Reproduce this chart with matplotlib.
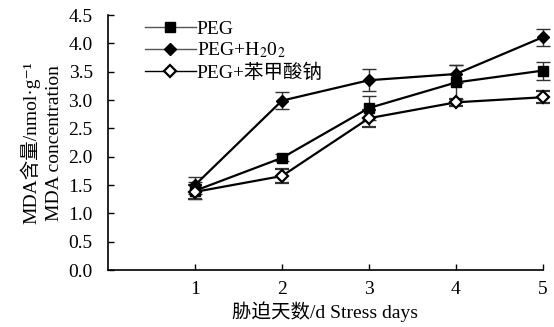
import numpy as np
import matplotlib.pyplot as plt

plt.rcParams['font.family'] = ['Liberation Serif', 'DejaVu Serif', 'Noto Sans CJK SC']
plt.rcParams['mathtext.fontset'] = 'stix'

days = [1, 2, 3, 4, 5]
peg = [1.40, 1.98, 2.86, 3.31, 3.52]
peg_err = [0.15, 0.06, 0.22, 0.30, 0.16]
peg_h2o2 = [1.50, 2.99, 3.35, 3.46, 4.11]
peg_h2o2_err = [0.15, 0.15, 0.19, 0.16, 0.15]
peg_sb = [1.38, 1.66, 2.68, 2.96, 3.05]
peg_sb_err = [0.12, 0.13, 0.15, 0.06, 0.11]

fs = 14

fig = plt.figure(figsize=[5.54, 3.27], dpi=100)
ax = fig.add_axes([0.195, 0.174, 0.785, 0.780])

kw = dict(color='black', lw=1.6, ecolor='#333333', elinewidth=1.0,
          capsize=5, capthick=1.0, clip_on=False)
ax.errorbar(days, peg, yerr=peg_err, marker='s', ms=7, mfc='black', mec='black', **kw)
ax.errorbar(days, peg_h2o2, yerr=peg_h2o2_err, marker='D', ms=6.5, mfc='black', mec='black', **kw)
ax.errorbar(days, peg_sb, yerr=peg_sb_err, marker='D', ms=6, mfc='white', mec='black', mew=1.6, **kw)

# legend entries drawn as plain lines with markers
l1, = ax.plot([], [], color='#555555', lw=1.0, marker='s', ms=7, mfc='black', mec='black')
l2, = ax.plot([], [], color='#555555', lw=1.0, marker='D', ms=6.5, mfc='black', mec='black')
l3, = ax.plot([], [], color='black', lw=1.0, marker='D', ms=6, mfc='white', mec='black', mew=1.6)
ax.legend([l1, l2, l3], ['PEG', 'PEG+H$_2$0$_2$', 'PEG+苯甲酸钠'],
          loc='upper left', bbox_to_anchor=(0.085, 0.98), frameon=False,
          fontsize=fs, handlelength=2.6, handletextpad=0.05,
          labelspacing=0.15, borderaxespad=0, borderpad=0)

ax.set_xlim(0, 5)
ax.set_ylim(0, 4.5)
ax.set_xticks(days)
ax.set_yticks(np.arange(0, 4.51, 0.5))
ax.set_yticklabels([f'{v:.1f}' for v in np.arange(0, 4.51, 0.5)])
ax.tick_params(direction='in', length=4, width=1, labelsize=fs)
ax.tick_params(axis='y', pad=11)
ax.tick_params(axis='x', pad=8)
ax.spines['top'].set_visible(False)
ax.spines['right'].set_visible(False)
ax.spines['left'].set_linewidth(1.2)
ax.spines['bottom'].set_linewidth(1.2)

ax.set_xlabel('胁迫天数/d Stress days', fontsize=fs, labelpad=2)
ax.set_ylabel('MDA含量/nmol·g⁻¹\nMDA concentration', fontsize=fs,
              labelpad=4, linespacing=1.45)

fig.savefig('out.png', dpi=100)
